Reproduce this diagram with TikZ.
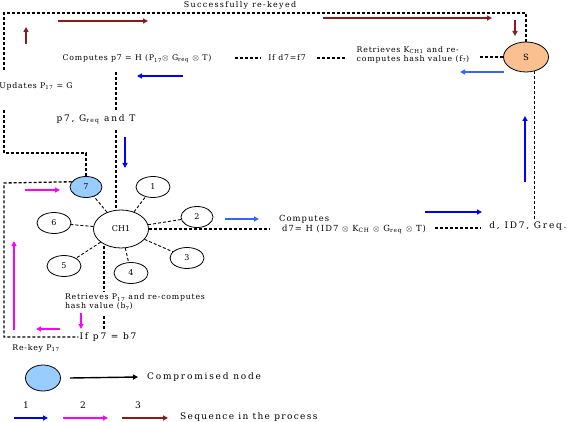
\documentclass[tikz,border=0pt]{standalone}
\usepackage{fontspec}
\setmainfont{DejaVu Serif}
\usetikzlibrary{arrows.meta,shapes.geometric}
\definecolor{cblue}{RGB}{0,0,255}
\definecolor{lblue}{RGB}{51,102,255}
\definecolor{mag}{RGB}{255,0,255}
\definecolor{dred}{RGB}{139,26,26}
\definecolor{fillb}{RGB}{153,204,255}
\definecolor{fillS}{RGB}{250,192,144}
\begin{document}
\begin{tikzpicture}[x=1pt,y=-1pt,
  txt/.style={inner sep=1pt,font=\fontsize{7.8}{9}\selectfont\addfontfeatures{LetterSpace=10}},
  txtL/.style={inner sep=1pt,font=\fontsize{9}{10}\selectfont\addfontfeatures{LetterSpace=20}},
  dsh/.style={draw=black,line width=1.3pt,dash pattern=on 3pt off 2pt},
  sn/.style={ellipse,draw=black,line width=0.8pt,fill=white,inner sep=0pt,minimum width=34pt,minimum height=21pt,font=\fontsize{8}{9}\selectfont},
  arr/.style={line width=1.4pt,-{Triangle[length=5pt,width=5pt]}},
]
\useasboundingbox (0,0) rectangle (567,422);

% ---------- text nodes ----------
\node[txtL,font=\fontsize{8}{9}\selectfont\addfontfeatures{LetterSpace=16}] (title) at (240,5) {Successfully re-keyed};
\node[txt] (cp7) at (137,59) {Computes p7 = H (P\textsubscript{17}$\otimes$ G\textsubscript{req} $\otimes$ T)};
\node[txt] (ifd) at (287,58) {If d7=f7};
\node[txt,align=left] (retr) at (413,55) {Retrieves K\textsubscript{CH1} and re-\\computes hash value (f\textsubscript{7})};
\node[ellipse,draw=black,line width=0.8pt,fill=fillS,minimum width=45pt,minimum height=30pt,inner sep=0pt,font=\fontsize{8.5}{9}\selectfont] (S) at (526,57) {S};
\node[txt] (upd) at (36,86) {Updates P\textsubscript{17} = G};
\node[txtL] (pgt) at (96,119) {p7, G\textsubscript{req} and T};
\node[txt,align=left,anchor=west,font=\fontsize{8.4}{10}\selectfont\addfontfeatures{LetterSpace=12}] (comp) at (278,224) {Computes\\\hspace*{3pt}d7= H (ID7 $\otimes$ K\textsubscript{CH} $\otimes$ G\textsubscript{req} $\otimes$ T)};
\node[txtL] (did) at (528,226) {d, ID7, Greq.};
\node[txt,align=left] (retp) at (135,302) {Retrieves P\textsubscript{17} and re-computes\\hash value (b\textsubscript{7})};
\node[txtL] (ifp) at (108,337) {If p7 = b7};
\node[txt] (rek) at (36,348) {Re-key P\textsubscript{17}};

% ---------- cluster ----------
\node[sn,minimum width=55pt,minimum height=38pt] (ch) at (121,229) {CH1};
\node[sn,fill=fillb,minimum width=32pt] (n7) at (86,187) {7};
\node[sn] (n1) at (153,187) {1};
\node[sn,minimum width=32pt] (n2) at (197,217) {2};
\node[sn] (n3) at (187,258) {3};
\node[sn] (n4) at (131,273) {4};
\node[sn] (n5) at (64,266) {5};
\node[sn] (n6) at (54,223) {6};
\foreach \n in {n1,n2,n3,n4,n5,n6,n7} \draw[dsh,line width=0.9pt] (ch) -- (\n);

% ---------- dashed routes ----------
\coordinate (tl) at (4,13);
\coordinate (u1) at (4,72);
\coordinate (u2) at (4,110);
\coordinate (u3) at (4,153);
\draw[dsh] (S.north) |- (tl) -- (u1);
\draw[dsh] (u2) -- (u3) -| (n7.north);
\coordinate (l1) at (4,183);
\draw[dsh] (n7.160) -- (l1) |- (ifp.west);
\coordinate (v1) at (116,72);
\coordinate (v2) at (116,110);
\coordinate (v3) at (116,130);
\draw[dsh] (v1) -- (v2);
\draw[dsh] (v3) -- (ch.north -| v3);
\coordinate (w1) at (104,246);
\coordinate (w2) at (104,292);
\coordinate (w3) at (104,316);
\coordinate (w4) at (104,330);
\draw[dsh] (w1) -- (w2);
\draw[dsh] (w3) -- (w4);
\draw[dsh] (ch.east) -- ([xshift=-9pt]ch.east -| comp.west);
\path (comp.east) ++(8,4) coordinate (cd1);
\draw[dsh] (cd1) -- ([xshift=-8pt]cd1 -| did.west);
\draw[dsh] (S.300) -- (S.300 |- did.north);
\path (ifd.west) ++(-6,0) coordinate (id1);
\draw[dsh] ([xshift=22pt]cp7.east |- id1) -- (id1);
\path (ifd.east) ++(10,0) coordinate (id2);
\draw[dsh] (id2) -- ([xshift=-10pt]id2 -| retr.west);
\path (retr.east) ++(10,2) coordinate (rt1);
\draw[dsh] (rt1) -- (rt1 -| S.west);

% ---------- sequence arrows ----------
\coordinate (b1s) at (504,72); \coordinate (b1e) at (460,72);
\coordinate (b2s) at (183,76); \coordinate (b2e) at (137,76);
\coordinate (b3s) at (125,137); \coordinate (b3e) at (125,168);
\coordinate (b4s) at (225,219); \coordinate (b4e) at (259,219);
\coordinate (b5s) at (425,212); \coordinate (b5e) at (482,212);
\coordinate (b6s) at (525,182); \coordinate (b6e) at (525,116);
\draw[arr,lblue] (b1s) -- (b1e);
\draw[arr,cblue] (b2s) -- (b2e);
\draw[arr,cblue] (b3s) -- (b3e);
\draw[arr,lblue] (b4s) -- (b4e);
\draw[arr,cblue] (b5s) -- (b5e);
\draw[arr,cblue] (b6s) -- (b6e);
\coordinate (m1s) at (25,190); \coordinate (m1e) at (60,190);
\coordinate (m2s) at (14,330); \coordinate (m2e) at (14,241);
\coordinate (m3s) at (60,329); \coordinate (m3e) at (36,329);
\coordinate (m4s) at (81,313); \coordinate (m4e) at (81,329);
\draw[arr,mag] (m1s) -- (m1e);
\draw[arr,mag] (m2s) -- (m2e);
\draw[arr,mag] (m3s) -- (m3e);
\draw[arr,mag] (m4s) -- (m4e);
\coordinate (r1s) at (26,44); \coordinate (r1e) at (26,27);
\coordinate (r2s) at (58,21); \coordinate (r2e) at (148,21);
\coordinate (r3s) at (323,18); \coordinate (r3e) at (492,18);
\coordinate (r4s) at (515,20); \coordinate (r4e) at (515,36);
\draw[arr,dred] (r1s) -- (r1e);
\draw[arr,dred] (r2s) -- (r2e);
\draw[arr,dred] (r3s) -- (r3e);
\draw[arr,dred] (r4s) -- (r4e);

% ---------- legend ----------
\node[ellipse,draw=black,line width=0.8pt,fill=fillb,minimum width=35pt,minimum height=26pt,inner sep=0pt] (lg) at (43,378) {};
\node[txtL,anchor=west] (lgt) at (146,377) {Compromised node};
\draw[arr,black] ([xshift=9pt]lg.east) -- ([xshift=-8pt]lgt.west);
\node[txtL] (k1) at (26,405) {1};
\node[txtL] (k2) at (83,405) {2};
\node[txtL] (k3) at (138,405) {3};
\node[txtL,anchor=west,font=\fontsize{9}{10}\selectfont\addfontfeatures{LetterSpace=15}] (seq) at (179,417) {Sequence in the process};
\coordinate (k1s) at (14,418); \coordinate (k1e) at (48,418);
\coordinate (k2s) at (63,418); \coordinate (k2e) at (108,418);
\coordinate (k3s) at (122,418); \coordinate (k3e) at (168,418);
\draw[arr,cblue] (k1s) -- (k1e);
\draw[arr,mag] (k2s) -- (k2e);
\draw[arr,dred] (k3s) -- (k3e);
\end{tikzpicture}
\end{document}
